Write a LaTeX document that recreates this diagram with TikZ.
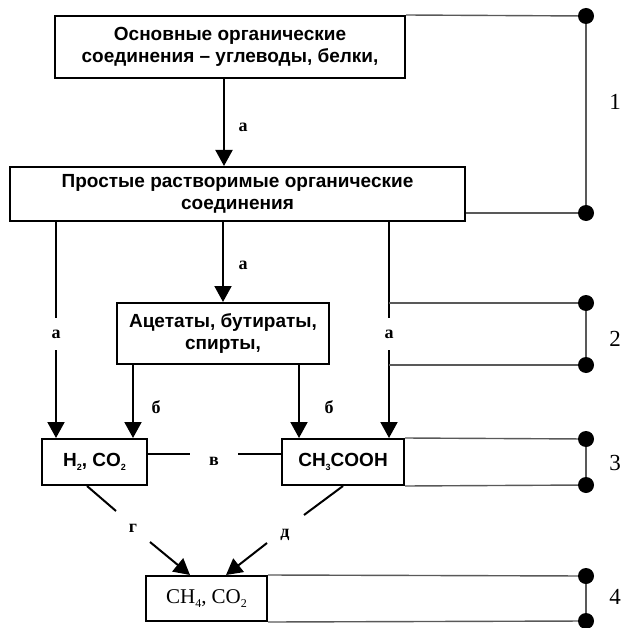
\documentclass[tikz,border=0pt]{standalone}
\usepackage{fontspec}
\setmainfont{Liberation Serif}
\setsansfont{Liberation Sans}
\usetikzlibrary{arrows.meta}
\newcommand{\mysub}[1]{\raisebox{-0.45ex}{\fontsize{9}{9}\selectfont #1}}
\newcommand{\mysubr}[1]{\raisebox{-0.45ex}{\fontsize{12}{12}\selectfont #1}}
\begin{document}
\begin{tikzpicture}[x=1pt,y=-1pt,
  box/.style={draw, line width=2pt, inner sep=0pt, align=center, font=\sffamily\bfseries\fontsize{19}{22}\selectfont},
  arr/.style={line width=2pt, -{Triangle[length=16pt,width=17pt]}},
  conn/.style={line width=2pt},
  lab/.style={font=\rmfamily\bfseries\fontsize{18}{18}\selectfont, inner sep=0pt},
  brk/.style={line width=1.4pt, draw=black!65},
  dot/.style={circle, fill=black, minimum size=16pt, inner sep=0pt},
  num/.style={font=\rmfamily\fontsize{23}{23}\selectfont, inner sep=0pt}]
\useasboundingbox (0,0) rectangle (622,628);
% boxes
\node[box, minimum width=350pt, minimum height=62pt] (b1) at (230,47) {Основные органические\\соединения – углеводы, белки,};
\node[box, minimum width=455pt, minimum height=54pt] (b2) at (237.5,194) {Простые растворимые органические\\соединения};
\node[box, minimum width=212pt, minimum height=61pt] (b3) at (223,333.5) {Ацетаты, бутираты,\\спирты,};
\node[box, minimum width=105pt, minimum height=46pt] (h2) at (94.5,462) {H\mysub{2}, CO\mysub{2}};
\node[box, minimum width=122pt, minimum height=46pt] (ac) at (343,462) {CH\mysub{3}COOH};
\node[box, font=\rmfamily\fontsize{21}{21}\selectfont, minimum width=121pt, minimum height=45pt] (ch4) at (206.5,598.5) {CH\mysubr{4}, CO\mysubr{2}};
% columns
\coordinate (xT) at (224,0);
\coordinate (xB1) at (133,0);
\coordinate (xB2) at (299,0);
\coordinate (xR) at (389,0);
\coordinate (xg) at (87,0);
\coordinate (xg2) at (190,0);
\coordinate (xd) at (343,0);
\coordinate (xd2) at (226,0);
\coordinate (vy) at (0,454);
\coordinate (g1) at (116,511);
\coordinate (g2) at (150,542);
\coordinate (d1) at (304,515);
\coordinate (d2) at (267,543);
% labels
\node[lab] (la1) at (243,127) {а};
\node[lab] (la2) at (243,265) {а};
\node[lab, minimum height=32pt] (laL) at (56,334) {а};
\node[lab, minimum height=32pt] (laR) at (389,334) {а};
\node[lab] (lb1) at (156,407) {б};
\node[lab] (lb2) at (329,407) {б};
\node[lab, minimum width=48pt] (lv) at (214,461) {в};
\node[lab] (lg) at (133,528) {г};
\node[lab] (ld) at (285,535) {д};
% connectors
\draw[arr] (b1.south -| xT) -- (b2.north -| xT);
\draw[arr] (b2.south -| b3.north) -- (b3.north);
\draw[conn] (b2.south -| laL) -- (laL.north);
\draw[arr] (laL.south) -- (h2.north -| laL);
\draw[conn] (b2.south -| laR) -- (laR.north);
\draw[arr] (laR.south) -- (ac.north -| laR);
\draw[arr] (b3.south -| xB1) -- (h2.north -| xB1);
\draw[arr] (b3.south -| xB2) -- (ac.north -| xB2);
\draw[conn] (h2.east |- vy) -- (lv.west |- vy);
\draw[conn] (lv.east |- vy) -- (ac.west |- vy);
\draw[conn] (h2.south -| xg) -- (g1);
\draw[arr] (g2) -- (ch4.north -| xg2);
\draw[conn] (ac.south -| xd) -- (d1);
\draw[arr] (d2) -- (ch4.north -| xd2);
% brackets
\node[dot] (p1) at (586,16) {};
\node[dot] (p2) at (586,213) {};
\node[dot] (p3) at (586,303) {};
\node[dot] (p4) at (586,365) {};
\node[dot] (p5) at (586,439) {};
\node[dot] (p6) at (586,485) {};
\node[dot] (p7) at (586,576) {};
\node[dot] (p8) at (586,621) {};
\draw[brk] (b1.north east) -- (p1);
\draw[brk] (b2.east |- p2) -- (p2);
\draw[brk] (p1) -- (p2);
\draw[brk] (xR |- p3) -- (p3);
\draw[brk] (xR |- p4) -- (p4);
\draw[brk] (p3) -- (p4);
\draw[brk] (ac.north east) -- (p5);
\draw[brk] (ac.south east) -- (p6);
\draw[brk] (p5) -- (p6);
\draw[brk] (ch4.north east) -- (p7);
\draw[brk] (ch4.south east) -- (p8);
\draw[brk] (p7) -- (p8);
\node[num] (n1) at (615,102) {1};
\node[num] (n2) at (615,339) {2};
\node[num] (n3) at (615,463) {3};
\node[num] (n4) at (615,597) {4};
\end{tikzpicture}
\end{document}
